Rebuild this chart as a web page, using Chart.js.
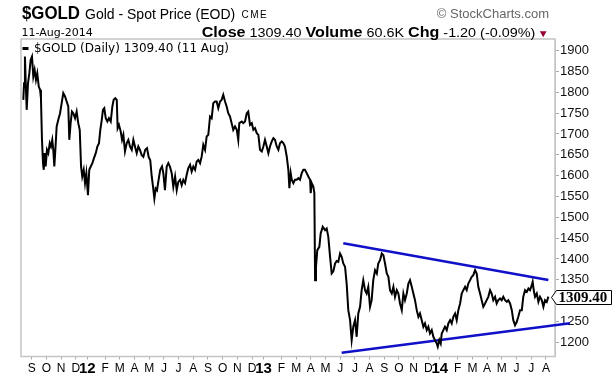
<!DOCTYPE html>
<html><head><meta charset="utf-8">
<script src="https://cdn.jsdelivr.net/npm/chart.js@4.4.0/dist/chart.umd.min.js"></script>
<style>
html,body{margin:0;padding:0;background:#fff;}
#wrap{position:relative;width:613px;height:379px;overflow:hidden;font-family:"Liberation Sans",Arial,sans-serif;color:#000;}
canvas{position:absolute;left:0;top:0;}
.t{position:absolute;white-space:nowrap;line-height:1;}
</style></head><body>
<div id="wrap">
<canvas id="c" width="613" height="379"></canvas>
<div class="t" style="left:21.5px;top:3.6px;font-size:18.5px;font-weight:bold;transform:scaleX(0.91);transform-origin:0 0;">$GOLD</div>
<div class="t" style="left:85px;top:6.5px;font-size:14px;">Gold - Spot Price (EOD)</div>
<div class="t" style="left:241.5px;top:9.8px;font-size:10px;letter-spacing:1.5px;">CME</div>
<div class="t" style="right:64px;top:7px;font-size:13px;color:#666;">© StockCharts.com</div>
<div class="t" style="left:21.5px;top:27.4px;font-size:11px;font-family:'DejaVu Sans',Verdana,sans-serif;">11-Aug-2014</div>
<div class="t" style="right:64px;top:24.9px;font-size:14px;line-height:14px;transform:scaleX(1.15);transform-origin:100% 0;"><b>Close</b><span style="font-size:12.5px;"> 1309.40 </span><b>Volume</b><span style="font-size:12.5px;"> 60.6K </span><b>Chg</b><span style="font-size:12.5px;"> -1.20 (-0.09%)</span><span style="font-size:10px;color:#990033;margin-left:2px;">▼</span></div>
</div>
<script>
// x values are month positions: 0 = Sep 2011, 12 = Sep 2012, 24 = Sep 2013
const monthLabels = ["S","O","N","D","12","F","M","A","M","J","J","A","S","O","N","D","13","F","M","A","M","J","J","A","S","O","N","D","14","F","M","A","M","J","J","A"];
const yearLabels = ["12","13","14"];
const priceTicks = [1200,1250,1300,1350,1400,1450,1500,1550,1600,1650,1700,1750,1800,1850,1900];

const monthIdx = [
-0.57,-0.52,-0.46,-0.39,-0.34,-0.25,-0.16,-0.07,0.02,0.11,0.20,0.29,0.38,0.48,0.57,0.63,0.70,0.77,0.82,0.88,
0.95,1.04,1.13,1.23,1.31,1.40,1.47,1.54,1.61,1.70,1.81,1.93,2.04,2.15,2.27,2.38,2.49,2.56,2.65,2.74,
2.83,2.95,3.06,3.17,3.27,3.36,3.44,3.54,3.63,3.72,3.83,3.92,4.02,4.13,4.24,4.36,4.47,4.58,4.67,4.77,
4.85,4.94,5.04,5.15,5.26,5.38,5.49,5.58,5.69,5.79,5.85,5.94,6.06,6.15,6.24,6.35,6.47,6.58,6.69,6.81,
6.92,7.03,7.15,7.26,7.37,7.49,7.60,7.73,7.85,7.96,8.07,8.17,8.26,8.35,8.44,8.53,8.65,8.75,8.87,8.96,
9.07,9.19,9.30,9.41,9.53,9.64,9.76,9.87,9.98,10.10,10.21,10.32,10.44,10.55,10.66,10.78,10.89,11.00,11.12,11.23,
11.34,11.46,11.57,11.68,11.80,11.91,12.02,12.14,12.25,12.36,12.48,12.59,12.70,12.82,12.93,13.04,13.16,13.27,13.38,13.50,
13.61,13.72,13.84,13.96,14.06,14.13,14.30,14.40,14.52,14.64,14.74,14.86,14.98,15.09,15.20,15.32,15.43,15.54,15.66,15.77,
15.88,16.00,16.11,16.22,16.34,16.45,16.56,16.68,16.79,16.90,17.02,17.13,17.24,17.36,17.47,17.54,17.63,17.70,17.81,17.92,
18.04,18.15,18.26,18.38,18.49,18.60,18.72,18.83,18.95,18.99,19.06,19.17,19.24,19.29,19.35,19.44,19.58,19.67,19.81,19.97,
20.08,20.19,20.31,20.42,20.53,20.65,20.76,20.87,20.99,21.10,21.21,21.33,21.44,21.55,21.67,21.78,21.89,22.01,22.12,22.23,
22.35,22.46,22.57,22.69,22.80,22.91,23.03,23.14,23.25,23.37,23.49,23.59,23.71,23.83,23.94,24.05,24.17,24.28,24.39,24.51,
24.62,24.73,24.85,24.96,25.07,25.19,25.30,25.41,25.53,25.64,25.75,25.87,25.98,26.09,26.21,26.32,26.43,26.55,26.66,26.77,
26.89,27.00,27.11,27.23,27.34,27.45,27.57,27.64,27.75,27.84,27.91,28.02,28.13,28.25,28.36,28.48,28.59,28.70,28.82,28.93,
29.04,29.16,29.27,29.38,29.50,29.61,29.72,29.84,29.95,30.06,30.18,30.29,30.40,30.52,30.63,30.74,30.86,30.97,31.08,31.20,
31.31,31.42,31.54,31.65,31.76,31.88,31.99,32.10,32.22,32.34,32.44,32.56,32.68,32.78,32.90,33.02,33.12,33.24,33.36,33.46,
33.58,33.70,33.81,33.92,34.04,34.10,34.19,34.26,34.38,34.49,34.60,34.72,34.83,34.94,35.06,35.17
];
const closePrice = [
1782,1822,1886,1806,1758,1822,1846,1878,1886,1838,1854,1830,1846,1814,1806,1786,1686,1630,1614,1654,
1622,1662,1654,1678,1670,1686,1662,1622,1662,1718,1734,1750,1774,1798,1790,1778,1766,1686,1726,1754,
1750,1738,1754,1726,1710,1622,1598,1614,1582,1606,1553,1614,1622,1630,1642,1654,1670,1678,1710,1734,
1758,1762,1738,1730,1738,1730,1766,1782,1786,1782,1714,1722,1706,1686,1698,1658,1678,1686,1670,1662,
1686,1670,1654,1670,1662,1649,1645,1662,1666,1645,1637,1598,1573,1545,1569,1565,1593,1614,1622,1606,
1565,1622,1630,1622,1606,1573,1598,1565,1585,1590,1577,1590,1582,1602,1618,1626,1610,1622,1614,1634,
1638,1630,1646,1674,1662,1694,1698,1742,1738,1774,1778,1778,1762,1778,1782,1794,1778,1766,1750,1742,
1726,1710,1718,1710,1686,1726,1730,1726,1730,1750,1754,1722,1726,1710,1714,1702,1698,1662,1658,1670,
1686,1670,1654,1670,1682,1690,1686,1670,1662,1678,1682,1678,1670,1646,1614,1570,1606,1590,1582,1590,
1590,1594,1590,1606,1614,1614,1606,1598,1590,1558,1582,1574,1558,1349,1381,1421,1429,1461,1477,1469,
1473,1453,1405,1365,1370,1389,1395,1393,1413,1405,1389,1381,1340,1277,1253,1205,1237,1253,1213,1269,
1285,1325,1349,1325,1317,1333,1285,1301,1349,1373,1365,1389,1397,1413,1409,1389,1365,1357,1325,1317,
1333,1309,1325,1317,1293,1277,1317,1301,1317,1341,1349,1333,1317,1301,1277,1261,1269,1253,1237,1245,
1229,1237,1221,1229,1213,1205,1197,1189,1205,1197,1221,1229,1237,1229,1245,1253,1245,1261,1269,1253,
1277,1293,1317,1325,1333,1325,1341,1349,1357,1361,1373,1365,1333,1317,1301,1285,1293,1301,1309,1325,
1317,1301,1309,1293,1301,1305,1301,1309,1301,1297,1301,1293,1277,1253,1241,1249,1261,1277,1277,1309,
1325,1321,1329,1325,1337,1345,1321,1309,1317,1297,1309,1301,1285,1301,1297,1309.4
];
// trend lines (start, end)
const upperTrendX = [21.21, 35.17];
const upperTrendY = [1437.5, 1349.3];
const lowerTrendX = [21.10, 36.64];
const lowerTrendY = [1174.7, 1245.3];
const lastClose = 1309.40;
const legendText = "$GOLD (Daily) 1309.40 (11 Aug)";

const toPts = (xs, ys) => xs.map((x, i) => ({x: x, y: ys[i]}));
const isYear = l => yearLabels.includes(l);

const frame = {
  id: 'frame',
  beforeDatasetsDraw(chart) {
    const {ctx, chartArea: a} = chart;
    ctx.save();
    ctx.strokeStyle = '#c4c4c4';
    ctx.lineWidth = 1.5;
    ctx.strokeRect(a.left, a.top, a.right - a.left, a.bottom - a.top);
    ctx.restore();
  },
  afterDraw(chart) {
    const {ctx, chartArea: a} = chart;
    const ys = chart.scales.y;
    ctx.save();
    // legend inside plot
    ctx.fillStyle = '#000';
    ctx.fillRect(a.left + 1.5, a.top + 8, 6, 3);
    ctx.font = '12px "DejaVu Sans", Verdana, sans-serif';
    ctx.textBaseline = 'middle';
    ctx.fillText(legendText, a.left + 13, a.top + 9.5);
    // last value callout
    const py = Math.round(ys.getPixelForValue(lastClose)) + 0.5;
    const x0 = a.right - 3.5;
    ctx.beginPath();
    ctx.moveTo(x0, py);
    ctx.lineTo(x0 + 5, py - 7);
    ctx.lineTo(611.5, py - 7);
    ctx.lineTo(611.5, py + 7);
    ctx.lineTo(x0 + 5, py + 7);
    ctx.closePath();
    ctx.fillStyle = '#fff';
    ctx.fill();
    ctx.strokeStyle = '#000';
    ctx.lineWidth = 1;
    ctx.stroke();
    ctx.fillStyle = '#000';
    ctx.font = 'bold 15px "Liberation Serif", "Times New Roman", serif';
    ctx.textAlign = 'left';
    ctx.fillText(lastClose.toFixed(2), x0 + 7, py + 1);
    ctx.restore();
  }
};

new Chart(document.getElementById('c'), {
  type: 'line',
  data: {
    datasets: [
      {data: toPts(monthIdx, closePrice), borderColor: '#000', borderWidth: 2, pointRadius: 0, tension: 0, order: 1},
      {data: toPts(upperTrendX, upperTrendY), borderColor: '#1010c8', borderWidth: 2.5, pointRadius: 0, clip: false, order: 2},
      {data: toPts(lowerTrendX, lowerTrendY), borderColor: '#1010c8', borderWidth: 2.5, pointRadius: 0, clip: false, order: 2}
    ]
  },
  options: {
    responsive: false,
    animation: false,
    events: [],
    layout: {padding: {left: 21, top: 39, right: 0, bottom: 0}},
    plugins: {legend: {display: false}, tooltip: {enabled: false}},
    scales: {
      x: {
        type: 'linear', min: -0.728, max: 35.62,
        afterBuildTicks: s => { s.ticks = monthLabels.map((l, i) => ({value: isYear(l) ? i - 0.22 : i})); },
        afterFit: s => { s.height = 22.5; },
        grid: {drawOnChartArea: false, drawTicks: true, tickLength: 3, color: '#aaa'},
        border: {display: true, color: '#c4c4c4'},
        ticks: {
          autoSkip: false, maxRotation: 0, padding: 2, color: '#000',
          callback: (v) => monthLabels[Math.round(v)],
          font: ctx => isYear(monthLabels[ctx.index])
              ? {family: '"Liberation Sans", Arial, sans-serif', size: 15, weight: 'bold', lineHeight: 1}
              : {family: '"Liberation Sans", Arial, sans-serif', size: 12, lineHeight: 1.2}
        }
      },
      y: {
        position: 'right', type: 'linear', min: 1165.7, max: 1928.1,
        afterBuildTicks: s => { s.ticks = priceTicks.map(v => ({value: v})); },
        afterFit: s => { s.width = 58; },
        grid: {drawOnChartArea: false, drawTicks: true, tickLength: 4, color: '#aaa'},
        border: {display: true, color: '#c4c4c4'},
        ticks: {padding: 1, color: '#111', font: {family: '"Liberation Sans", Arial, sans-serif', size: 13},
          callback: v => String(v)}
      }
    }
  },
  plugins: [frame]
});
</script>
</body></html>
